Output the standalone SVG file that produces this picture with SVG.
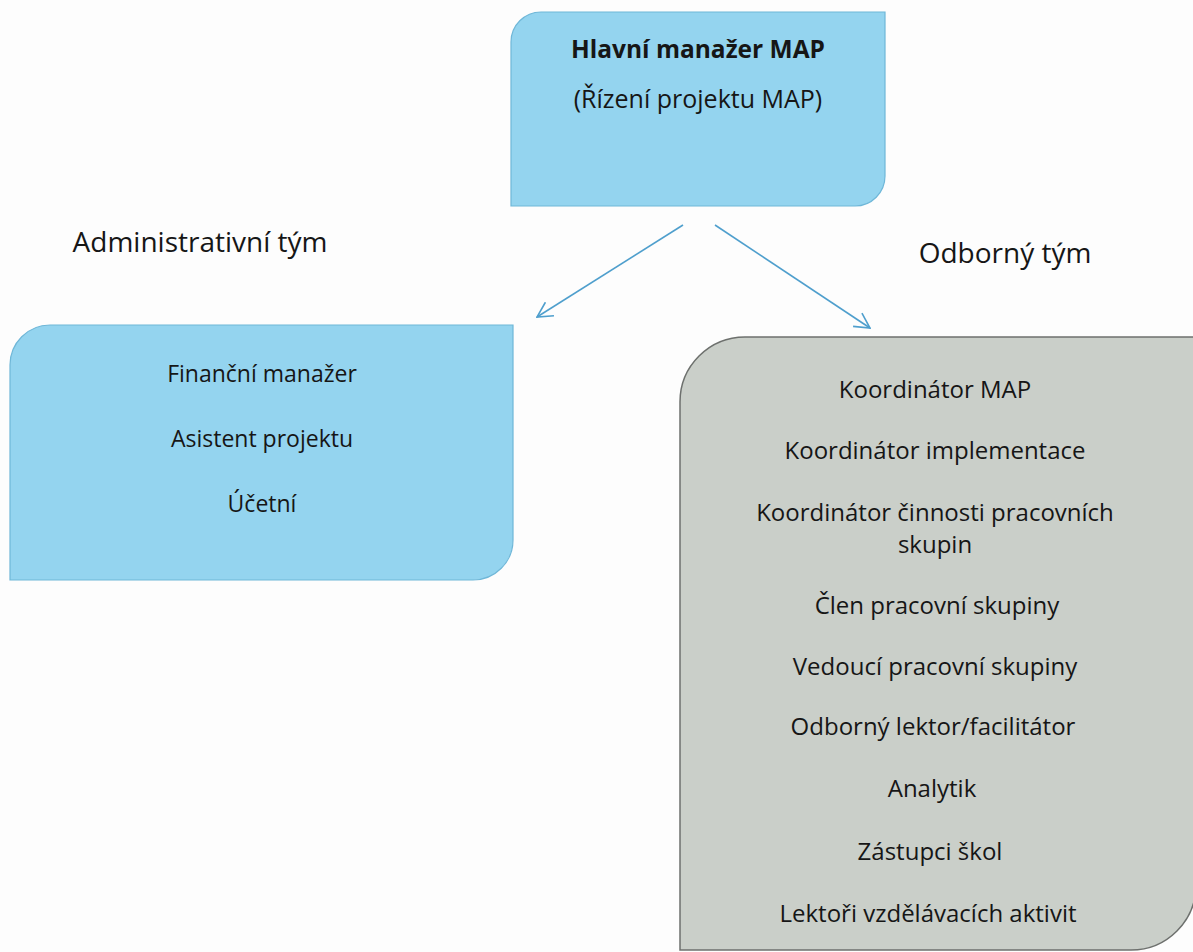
<svg xmlns="http://www.w3.org/2000/svg" width="1193" height="952" viewBox="0 0 1193 952">
<style>
.t{font-family:"Open Sans","Liberation Sans",sans-serif;fill:#161616;text-anchor:middle}
.blue{fill:#94d4ef;stroke:#6fb7d8;stroke-width:1.2}
.grey{fill:#cacfc9;stroke:#6d706d;stroke-width:1.5}
.conn{stroke:#4f9fcd;stroke-width:1.6;fill:none}
</style>
<defs>
<marker id="arr" viewBox="0 0 18 18" refX="17" refY="9" markerWidth="18" markerHeight="18" markerUnits="userSpaceOnUse" orient="auto">
<path d="M2,1 L17,9 L2,17" fill="none" stroke="#4f9fcd" stroke-width="1.6"/>
</marker>
</defs>
<rect width="1193" height="952" fill="#fdfdfd"/>
<g id="hlavni-manazer">
<path class="blue" d="M541,12 H885 V176 A30 30 0 0 1 855,206 H511 V42 A30 30 0 0 1 541,12 Z"/>
<text class="t" x="698" y="58" font-size="24.5" font-weight="bold">Hlavní manažer MAP</text>
<text class="t" x="698" y="108" font-size="25">(Řízení projektu MAP)</text>
</g>
<g id="label-admin">
<text class="t" x="200" y="252" font-size="28">Administrativní tým</text>
</g>
<g id="label-odborny">
<text class="t" x="1005" y="263" font-size="28">Odborný tým</text>
</g>
<g id="admin-tym">
<path class="blue" d="M50,325 H513 V540 A40 40 0 0 1 473,580 H10 V365 A40 40 0 0 1 50,325 Z"/>
<text class="t" x="262" y="382" font-size="23">Finanční manažer</text>
<text class="t" x="262" y="447" font-size="23">Asistent projektu</text>
<text class="t" x="262" y="512" font-size="23">Účetní</text>
</g>
<g id="odborny-tym">
<path class="grey" d="M745,337 H1196 V885 A65 65 0 0 1 1131,950 H680 V402 A65 65 0 0 1 745,337 Z"/>
<g class="t" font-size="24">
<text x="935" y="398">Koordinátor MAP</text>
<text x="935" y="459">Koordinátor implementace</text>
<text x="935" y="521">Koordinátor činnosti pracovních</text>
<text x="935" y="553">skupin</text>
<text x="937" y="614">Člen pracovní skupiny</text>
<text x="935" y="675">Vedoucí pracovní skupiny</text>
<text x="933" y="735">Odborný lektor/facilitátor</text>
<text x="932" y="797">Analytik</text>
<text x="930" y="860">Zástupci škol</text>
<text x="928" y="922">Lektoři vzdělávacích aktivit</text>
</g>
</g>
<g id="connectors">
<line class="conn" x1="683" y1="225" x2="537" y2="317" marker-end="url(#arr)"/>
<line class="conn" x1="715" y1="225" x2="870" y2="328" marker-end="url(#arr)"/>
</g>
</svg>
